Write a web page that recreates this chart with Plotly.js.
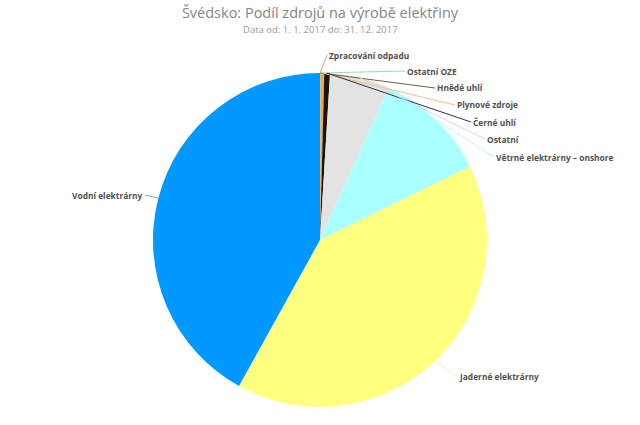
<!DOCTYPE html>
<html>
<head>
<meta charset="utf-8">
<script src="https://cdn.plot.ly/plotly-3.0.1.min.js"></script>
<style>html,body{margin:0;padding:0;background:#fff}#chart{width:640px;height:425px}</style>
</head>
<body>
<div id="chart"></div>
<script>
// Data (share of production, %)
const categories = ["Zpracování odpadu","Ostatní OZE","Hnědé uhlí","Plynové zdroje","Černé uhlí","Ostatní","Větrné elektrárny – onshore","Jaderné elektrárny","Vodní elektrárny"];
const values = [0.02, 0.02, 0.02, 0.35, 0.55, 5.8, 11.0, 40.3, 41.94];
const colors = ["#C8A878","#80DDA0","#7A5230","#F0A848","#1C140C","#E3E3E3","#AAFFFF","#FFFF80","#0099FF"];
const connectorColors = ["#B8A890","#90E0B0","#7A5A40","#F5C080","#303048","#D8D8D8","#C0F4F4","#F4F4C0","#60B0E0"];

// Layout / style settings
const W = 640, H = 425;
const cx = 320, cy = 240, R = 167;
// label tail points (pixels) and anchors
const labelTails = [
  {x: 327, y: 55, anchor: "left"},
  {x: 405, y: 71, anchor: "left"},
  {x: 435, y: 88, anchor: "left"},
  {x: 455, y: 105, anchor: "left"},
  {x: 471, y: 122, anchor: "left"},
  {x: 485, y: 139, anchor: "left"},
  {x: 494, y: 157, anchor: "left"},
  {x: 457, y: 377, anchor: "left"},
  {x: 145, y: 195, anchor: "right"}
];

const total = values.reduce((a, b) => a + b, 0);
let cum = 0;
const annotations = [];
values.forEach((v, i) => {
  const mid = (cum + v / 2) / total * 2 * Math.PI;
  cum += v;
  const hx = cx + R * Math.sin(mid);
  const hy = cy - R * Math.cos(mid);
  const t = labelTails[i];
  annotations.push({
    x: hx / W, y: 1 - hy / H, xref: "paper", yref: "paper",
    ax: t.x - hx, ay: t.y - hy,
    showarrow: true, arrowhead: 0, arrowwidth: 1, arrowcolor: connectorColors[i],
    standoff: 0, startstandoff: 0,
    text: "<b>" + categories[i] + "</b>",
    xanchor: t.anchor, yanchor: "middle",
    font: {family: "Open Sans, DejaVu Sans, sans-serif", size: 8.4, color: "#505050"}
  });
});
annotations.push({
  text: "Data od: 1. 1. 2017 do: 31. 12. 2017",
  x: 0.5, y: 1 - 30 / H, xref: "paper", yref: "paper",
  showarrow: false, xanchor: "center", yanchor: "middle",
  font: {family: "Open Sans, DejaVu Sans, sans-serif", size: 9.5, color: "#999999"}
});

const trace = {
  type: "pie",
  labels: categories,
  values: values,
  sort: false,
  direction: "clockwise",
  rotation: 0,
  textinfo: "none",
  hoverinfo: "label+percent",
  marker: {colors: colors, line: {width: 0}},
  domain: {x: [(cx - R) / W, (cx + R) / W], y: [1 - (cy + R) / H, 1 - (cy - R) / H]}
};

const layout = {
  width: W, height: H,
  margin: {l: 0, r: 0, t: 0, b: 0},
  showlegend: false,
  paper_bgcolor: "#ffffff",
  title: {
    text: "Švédsko: Podíl zdrojů na výrobě elektřiny",
    x: 0.5, xanchor: "center", y: 1 - 13 / H, yref: "container", yanchor: "middle",
    font: {family: "Open Sans, DejaVu Sans, sans-serif", size: 14.5, color: "#858585"}
  },
  annotations: annotations
};

Plotly.newPlot("chart", [trace], layout, {displayModeBar: false, staticPlot: true});
</script>
</body>
</html>
